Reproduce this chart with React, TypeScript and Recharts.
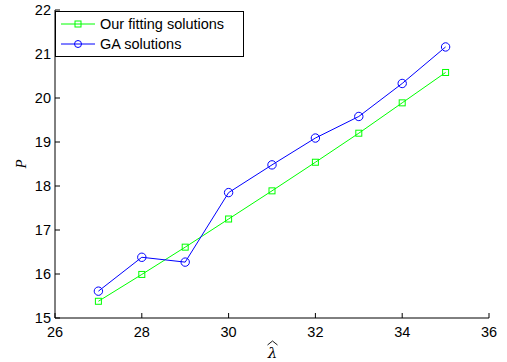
import { LineChart, Line, XAxis, YAxis } from "recharts";

const lambdaValues = [27, 28, 29, 30, 31, 32, 33, 34, 35];
const fittingValues = [15.38, 15.99, 16.61, 17.25, 17.89, 18.54, 19.2, 19.89, 20.58];
const gaValues = [15.61, 16.38, 16.27, 17.85, 18.48, 19.09, 19.58, 20.33, 21.16];
const xTicks = [26, 28, 30, 32, 34, 36];
const yTicks = [15, 16, 17, 18, 19, 20, 21, 22];

const data = lambdaValues.map((lam, i) => ({
  lam,
  fit: fittingValues[i],
  ga: gaValues[i],
}));

const FONT = "'Liberation Sans', Arial, sans-serif";
const GREEN = "#00ff00";
const BLUE = "#0000ff";

const BottomTick = ({ x, y, payload }: any) => (
  <g>
    <line x1={x} x2={x} y1={y} y2={y - 5} stroke="#000" />
    <text x={x} y={y + 19} textAnchor="middle" fontFamily={FONT} fontSize={14.5} fill="#000">
      {payload.value}
    </text>
  </g>
);

const LeftTick = ({ x, y, payload }: any) => (
  <g>
    <line x1={x} x2={x + 5} y1={y} y2={y} stroke="#000" />
    <text x={x - 4} y={y + 5} textAnchor="end" fontFamily={FONT} fontSize={14.5} fill="#000">
      {payload.value}
    </text>
  </g>
);

const TopTick = ({ x, y }: any) => <line x1={x} x2={x} y1={y} y2={y + 5} stroke="#000" />;
const RightTick = ({ x, y }: any) => <line x1={x} x2={x - 5} y1={y} y2={y} stroke="#000" />;

const Square = ({ cx, cy }: any) => (
  <rect x={cx - 3} y={cy - 3} width={6} height={6} fill="none" stroke={GREEN} />
);
const Circle = ({ cx, cy }: any) => <circle cx={cx} cy={cy} r={4.2} fill="none" stroke={BLUE} />;

// legend drawn as an overlay so it does not push the plot area down
const LegendBox = () => (
  <svg width={190} height={47} style={{ display: "block" }}>
    <rect x={0.5} y={0.5} width={188} height={45} fill="#fff" stroke="#000" />
    <line x1={6} x2={40} y1={13} y2={13} stroke={GREEN} />
    <rect x={20} y={10} width={6} height={6} fill="none" stroke={GREEN} />
    <text x={45} y={18} fontFamily={FONT} fontSize={14.5} fill="#000">Our fitting solutions</text>
    <line x1={6} x2={40} y1={33} y2={33} stroke={BLUE} />
    <circle cx={23} cy={33} r={3.5} fill="none" stroke={BLUE} />
    <text x={45} y={38} fontFamily={FONT} fontSize={14.5} fill="#000">GA solutions</text>
  </svg>
);

export default function App() {
  return (
    <div style={{ position: "absolute", left: 0, top: 0, width: 507, height: 362, background: "#fff" }}>
      <LineChart width={507} height={362} data={data} margin={{ top: 10, right: 18, bottom: 0, left: 0 }}>
        <XAxis
          xAxisId="b"
          dataKey="lam"
          type="number"
          domain={[26, 36]}
          ticks={xTicks}
          height={44}
          stroke="#000"
          tickSize={0}
          tickMargin={0}
          tickLine={false}
          tick={<BottomTick />}
          interval={0}
          label={({ viewBox }: any) => {
            const cx = viewBox.x + viewBox.width / 2 + 0.5;
            const top = viewBox.y;
            return (
              <g>
                <path
                  d={`M ${cx - 5} ${top + 27} L ${cx} ${top + 23} L ${cx + 5} ${top + 27}`}
                  fill="none"
                  stroke="#000"
                  strokeWidth={0.9}
                />
                <text x={cx} y={top + 40} textAnchor="middle" fontFamily="'DejaVu Serif', serif" fontStyle="italic" fontSize={15} fill="#000">
                  λ
                </text>
              </g>
            );
          }}
        />
        <XAxis
          xAxisId="t"
          dataKey="lam"
          type="number"
          orientation="top"
          domain={[26, 36]}
          ticks={xTicks}
          height={0}
          stroke="#000"
          tickSize={0}
          tickMargin={0}
          tickLine={false}
          tick={<TopTick />}
          interval={0}
        />
        <YAxis
          yAxisId="l"
          type="number"
          domain={[15, 22]}
          ticks={yTicks}
          width={55}
          stroke="#000"
          tickSize={0}
          tickMargin={0}
          tickLine={false}
          tick={<LeftTick />}
          interval={0}
          label={({ viewBox }: any) => {
            const x = 26;
            const y = viewBox.y + viewBox.height / 2;
            return (
              <text x={x} y={y} transform={`rotate(-90 ${x} ${y})`} textAnchor="middle" fontFamily="'Liberation Serif', serif" fontStyle="italic" fontSize={15} fill="#000">
                P
              </text>
            );
          }}
        />
        <YAxis
          yAxisId="r"
          orientation="right"
          type="number"
          domain={[15, 22]}
          ticks={yTicks}
          width={0}
          stroke="#000"
          tickSize={0}
          tickMargin={0}
          tickLine={false}
          tick={<RightTick />}
          interval={0}
        />
        <Line
          xAxisId="b"
          yAxisId="l"
          dataKey="fit"
          name="Our fitting solutions"
          stroke={GREEN}
          strokeWidth={1}
          dot={<Square />}
          activeDot={false}
          isAnimationActive={false}
        />
        <Line
          xAxisId="b"
          yAxisId="l"
          dataKey="ga"
          name="GA solutions"
          stroke={BLUE}
          strokeWidth={1}
          dot={<Circle />}
          activeDot={false}
          isAnimationActive={false}
        />
      </LineChart>
      <div style={{ position: "absolute", left: 55, top: 11 }}>
        <LegendBox />
      </div>
    </div>
  );
}
